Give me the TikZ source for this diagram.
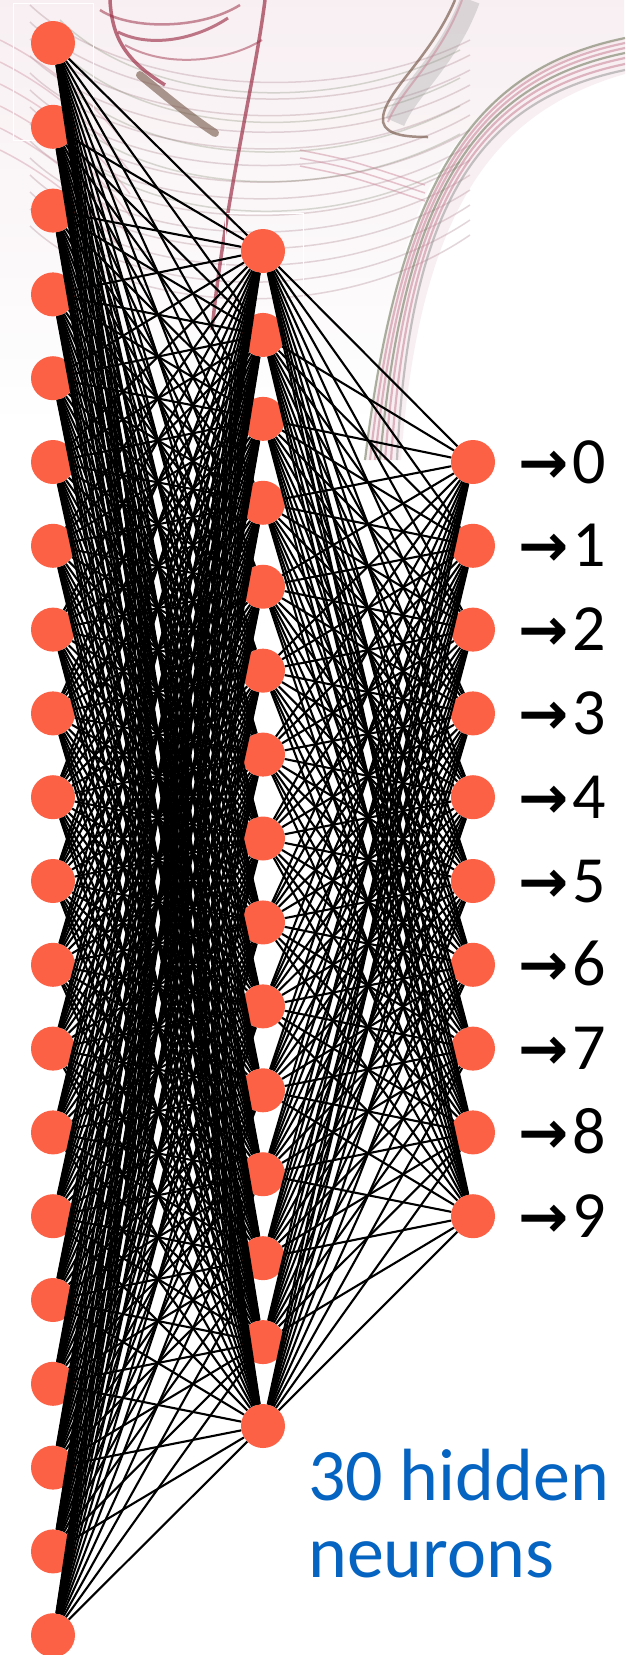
\documentclass[tikz,border=0pt]{standalone}
\usepackage{fontspec}
\usetikzlibrary{fadings}
\newfontfamily\carlito{Carlito}
\newfontfamily\dejavu{DejaVu Sans}
\definecolor{neuronfill}{RGB}{253,97,69}
\definecolor{textblue}{HTML}{0563C1}
\definecolor{bgred}{RGB}{150,35,60}
\definecolor{bgbrown}{RGB}{115,85,70}
\definecolor{bggreen}{RGB}{105,115,85}
\definecolor{bgpink}{RGB}{200,130,150}
\definecolor{bggrey}{RGB}{150,150,150}
\tikzset{
  neuron/.style={circle, fill=neuronfill, draw=none, minimum size=44pt, inner sep=0pt},
  edge/.style={black, line width=2.1pt},
  bgline/.style={line width=1.5pt, opacity=0.35},
  outlabel/.style={anchor=base west, inner sep=0pt, text=black},
}
\begin{document}
\begin{tikzpicture}[x=1pt,y=-1pt]
\useasboundingbox (0,0) rectangle (625,1655);
\fill[white] (0,0) rectangle (625,1655);
% ---- faint background sketch ----
\fill[bgpink, opacity=0.12, path fading=south] (0,0) -- (625,0) -- (625,40) .. controls (500,70) and (420,150) .. (395,300) -- (380,420) -- (0,420) -- cycle;
\foreach \k in {0,...,13}{
  \draw[bgline, color=bggrey!50!bgpink] (30,{5+17*\k}) .. controls (120,{90+17*\k}) and (330,{110+17*\k}) .. (470,{40+15*\k});
}
\foreach \k in {0,...,4}{
  \draw[bgline, color=bggreen, opacity=0.25] (60,{20+30*\k}) .. controls (140,{100+30*\k}) and (320,{120+30*\k}) .. (460,{50+28*\k});
}
\foreach \k in {0,...,5}{
  \draw[bgline, color=bgpink] (0,{40+22*\k}) .. controls (60,{70+22*\k}) and (100,{110+22*\k}) .. (130,{150+22*\k});
}
\draw[bgred, line width=3.5pt, opacity=0.65] (110,0) .. controls (112,40) and (128,62) .. (165,85);
\draw[bgred, line width=3pt, opacity=0.6] (118,32) .. controls (150,48) and (195,40) .. (228,18);
\draw[bgred, line width=2.5pt, opacity=0.5] (100,10) .. controls (130,30) and (200,30) .. (240,5);
\draw[bgred, line width=2pt, opacity=0.45] (125,45) .. controls (170,70) and (230,60) .. (262,40);
\draw[bgbrown, line width=8pt, opacity=0.6, line cap=round] (140,75) .. controls (170,100) and (195,120) .. (215,133);
\draw[bgred, line width=3.5pt, opacity=0.65] (265,0) .. controls (255,80) and (225,200) .. (212,330);
\draw[bggrey, line width=20pt, opacity=0.3] (470,0) .. controls (448,60) and (408,90) .. (395,122);
\draw[bgpink, line width=2pt, opacity=0.5] (462,0) .. controls (440,60) and (400,90) .. (388,122);
\draw[bgbrown, line width=2.5pt, opacity=0.65] (455,0) .. controls (430,60) and (380,95) .. (383,122) .. controls (386,136) and (410,137) .. (428,137);
\fill[bgpink, opacity=0.12] (625,38) .. controls (480,68) and (400,170) .. (365,460) -- (401,460) .. controls (420,200) and (500,110) .. (625,74) -- cycle;
\foreach \o/\col in {0/bggreen,5/bgpink,10/bgpink,15/bggreen,20/bgpink,26/bgpink,32/bggrey}{
  \draw[line width=2.2pt, color=\col, opacity=0.55] (625,{38+\o}) .. controls (480,{68+\o}) and ({400+0.3*\o},{170+\o}) .. ({365+\o},460);
}
\foreach \o in {0,8,16}{
  \draw[bgline, color=bgpink, opacity=0.45] (300,{150+\o}) .. controls (350,{160+\o}) .. (425,{185+\o});
}
\draw[white, line width=1pt] (13,3) rectangle (93,140);
\draw[white, line width=1pt] (225,213) rectangle (303,340);
% ---- neurons ----
\foreach \i in {0,...,19}{
  \node[neuron] (in\i) at (53,{43+83.8*\i}) {};
}
\foreach \j in {0,...,14}{
  \node[neuron] (h\j) at (263,{251+83.93*\j}) {};
}
\foreach \k in {0,...,9}{
  \node[neuron] (o\k) at (473,{462+83.8*\k}) {};
}
% ---- connections ----
\foreach \i in {0,...,19}{
  \foreach \j in {0,...,14}{
    \draw[edge] (in\i) -- (h\j);
  }
}
\foreach \j in {0,...,14}{
  \foreach \k in {0,...,9}{
    \draw[edge] (h\j) -- (o\k);
  }
}
% ---- output labels ----
\foreach \k in {0,...,9}{
  \node[outlabel] (lab\k) at (518,{483+83.8*\k}) {\fontsize{60}{62}\dejavu\bfseries →\hspace{4pt}\fontsize{66}{70}\mdseries\carlito \k};
}
% ---- caption ----
\node[anchor=base west, inner sep=0pt, align=left, text=textblue, font={\fontsize{74}{77}\carlito}] (caption) at (308,1577) {30 hidden\\neurons};
\end{tikzpicture}
\end{document}
